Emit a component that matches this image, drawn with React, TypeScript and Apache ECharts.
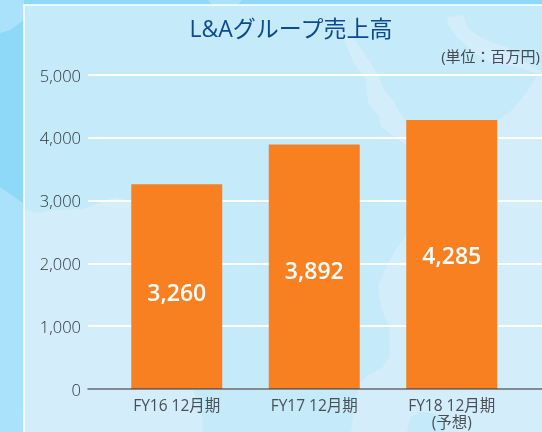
import React, { useEffect, useRef } from "react";
import * as echarts from "echarts";

const categories = ["FY16 12月期", "FY17 12月期", "FY18 12月期\n(予想)"];
const sales = [3260, 3892, 4285];
const labelShift = [5, 3.5, 0.5];
const yTicks = [0, 1000, 2000, 3000, 4000, 5000];
const titleText = "L&Aグループ売上高";
const unitText = "(単位:百万円)";

const FONT = '"Open Sans", "Noto Sans CJK JP", sans-serif';
const OUTER = "#8FD9F8";
const OUTER_LIGHT = "#AAE2FC";
const PANEL = "#C5EAFA";
const PANEL_LIGHT = "#D3EDFB";

function poly(points: number[][], fill: string, z: number) {
  return { type: "polygon", z, silent: true, shape: { points }, style: { fill } };
}

const backdrop = [
  { type: "rect", z: -30, silent: true, shape: { x: 0, y: 0, width: 542, height: 432 }, style: { fill: OUTER } },
  poly([[0, 0], [24, 0], [24, 20], [10, 30], [0, 33]], OUTER_LIGHT, -29),
  poly([[0, 187], [23, 203], [24, 432], [0, 432]], OUTER_LIGHT, -29),
  poly([[208, 0], [242, 0], [238, 5], [212, 5]], OUTER_LIGHT, -29),
  { type: "rect", z: -28, silent: true, shape: { x: 24, y: 5, width: 530, height: 440 }, style: { fill: PANEL, stroke: "#FFFFFF", lineWidth: 1.5 } },
  poly([[25, 210], [37, 213], [53, 210], [83, 209], [107, 200], [117, 197], [132, 203], [180, 300], [193, 390], [202, 413], [203, 432], [25, 432]], PANEL_LIGHT, -27),
  poly([[343, 38], [353, 37], [371, 63], [379, 77], [384, 90], [393, 100], [406, 123], [406, 145], [381, 127], [379, 117], [368, 103], [366, 80], [354, 63]], PANEL_LIGHT, -27),
  poly([[447, 17], [463, 15], [468, 28], [477, 35], [493, 43], [507, 47], [522, 60], [542, 72], [535, 73], [520, 68], [490, 62], [473, 52], [457, 37], [448, 25]], PANEL_LIGHT, -27),
  poly([[406, 236], [395, 250], [385, 270], [378, 285], [380, 300], [383, 313], [389, 325], [390, 357], [382, 368], [368, 375], [360, 382], [355, 400], [351, 432], [542, 432], [542, 72], [535, 78], [527, 92], [518, 103], [510, 112], [497, 120], [497, 389], [406, 389]], PANEL_LIGHT, -27),
  poly([[407, 432], [410, 418], [420, 412], [440, 414], [445, 432]], PANEL, -26),
];

export default function App() {
  const ref = useRef<HTMLDivElement>(null);
  useEffect(() => {
    document.body.style.margin = "0";
    const chart = echarts.init(ref.current!, undefined, { renderer: "svg" });
    chart.setOption({
      animation: false,
      textStyle: { fontFamily: FONT },
      title: {
        text: titleText,
        left: 286,
        top: 11,
        textAlign: "center",
        textStyle: { color: "#0B4A8F", fontSize: 23, fontWeight: 400, fontFamily: FONT },
      },
      grid: [
        { left: 88, top: 75, width: 454, height: 314 },
        { left: 108, top: 75, width: 412.5, height: 314 },
      ],
      xAxis: [
        {
          gridIndex: 0,
          type: "category",
          z: 6,
          data: categories,
          axisLine: { show: true, lineStyle: { color: "#3F4A52", opacity: 0.85, width: 1.5 } },
          axisTick: { show: false },
          axisLabel: { show: false },
          splitLine: { show: false },
        },
        {
          gridIndex: 1,
          type: "category",
          data: categories,
          axisLine: { show: false },
          axisTick: { show: false },
          axisLabel: { color: "#4A4F55", fontSize: 15.5, lineHeight: 17, margin: 7, interval: 0, fontFamily: FONT },
          splitLine: { show: false },
        },
      ],
      yAxis: [
        {
          gridIndex: 0,
          type: "value",
          min: yTicks[0],
          max: yTicks[yTicks.length - 1],
          interval: yTicks[1] - yTicks[0],
          axisLine: { show: false },
          axisTick: { show: false },
          axisLabel: {
            color: "#2F343A",
            fontSize: 16.5,
            fontWeight: 300,
            margin: 7,
            padding: [2, 0, 0, 0],
            fontFamily: FONT,
            formatter: (v: number) => v.toLocaleString("en-US"),
          },
          splitLine: { show: true, lineStyle: { color: "#FFFFFF", width: 2 } },
        },
        {
          gridIndex: 1,
          type: "value",
          min: yTicks[0],
          max: yTicks[yTicks.length - 1],
          interval: yTicks[1] - yTicks[0],
          axisLine: { show: false },
          axisTick: { show: false },
          axisLabel: { show: false },
          splitLine: { show: false },
        },
      ],
      graphic: {
        elements: [
          ...backdrop,
          {
            type: "text",
            z: 5,
            silent: true,
            x: 540,
            y: 56,
            style: {
              text: unitText.replace(":", "\uFF1A"),
              fill: "#444A50",
              fontSize: 15,
              fontFamily: FONT,
              textAlign: "right",
              textVerticalAlign: "middle",
            },
          },
        ],
      },
      series: [
        {
          type: "bar",
          xAxisIndex: 1,
          yAxisIndex: 1,
          barWidth: 91,
          z: 4,
          itemStyle: { color: "#F98021" },
          data: sales.map((value, i) => ({
            value,
            label: {
              show: true,
              position: "inside",
              offset: [0, labelShift[i]],
              color: "#FFFFFF",
              fontSize: 23,
              fontWeight: 600,
              fontFamily: FONT,
              formatter: (p: { value: number }) => p.value.toLocaleString("en-US"),
            },
          })),
        },
      ],
    });
    return () => chart.dispose();
  }, []);
  return <div ref={ref} style={{ position: "fixed", left: 0, top: 0, width: 542, height: 432 }} />;
}
